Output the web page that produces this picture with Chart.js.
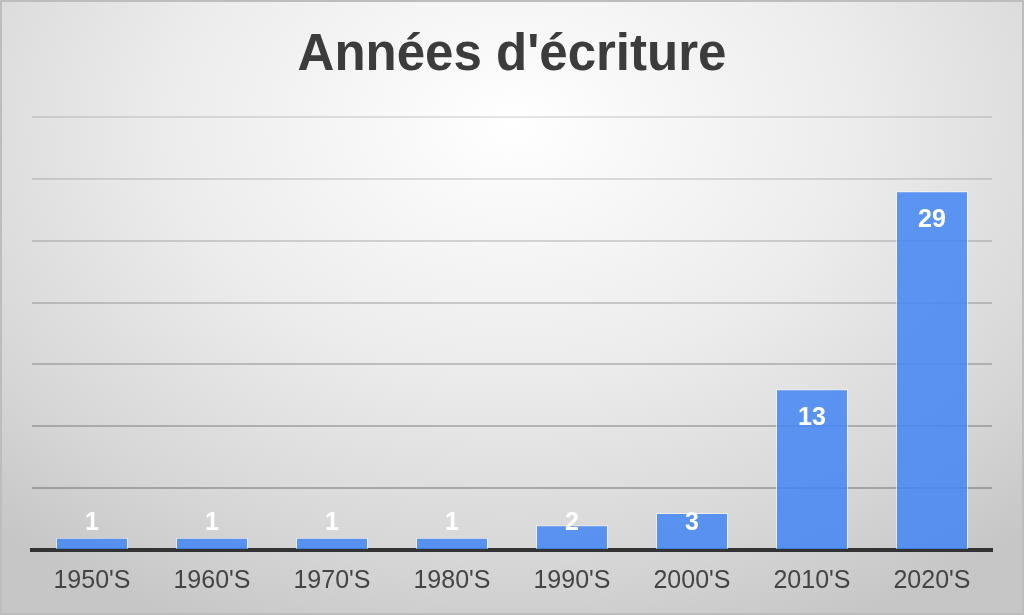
<!DOCTYPE html>
<html>
<head>
<meta charset="utf-8">
<script src="https://cdn.jsdelivr.net/npm/chart.js@4.4.0/dist/chart.umd.min.js"></script>
<style>
    html, body { margin:0; padding:0; }
    #wrap {
        width:1024px; height:615px; box-sizing:border-box;
        border:2px solid #bdbdbd;
        background: radial-gradient(ellipse 75% 90% at 50% 20%, #ffffff 0%, #ececec 45%, #d6d6d6 80%, #c6c6c6 100%);
    }
    canvas { display:block; }
</style>
</head>
<body>
<div id="wrap"><canvas id="chart" width="1020" height="611"></canvas></div>
<script>
// Données
const decennies = ["1950'S","1960'S","1970'S","1980'S","1990'S","2000'S","2010'S","2020'S"];
const nbTextes = [1, 1, 1, 1, 2, 3, 13, 29];
const yMax = 35;
const yStep = 5;

// Étiquettes blanches dans/au-dessus des barres
const labelsBarres = {
    id: 'labelsBarres',
    afterDatasetsDraw(chart){
        const ctx = chart.ctx;
        const base = chart.scales.y.getPixelForValue(0);
        ctx.save();
        ctx.fillStyle = '#ffffff';
        ctx.font = 'bold 25px "Liberation Sans", Arial, sans-serif';
        ctx.textAlign = 'center';
        ctx.textBaseline = 'middle';
        chart.getDatasetMeta(0).data.forEach((bar, i)=>{
            const y = Math.min(bar.y + 28.5, base - 26.5);
            ctx.fillText(String(nbTextes[i]), bar.x, y);
        });
        ctx.restore();
    }
};

const ctx = document.getElementById("chart").getContext("2d");
new Chart(ctx, {
    type:'bar',
    data:{
        labels: decennies,
        datasets:[{
            label:"Années d'écriture",
            data: nbTextes,
            backgroundColor:'rgba(66,133,244,0.85)',
            borderColor:'rgba(255,255,255,0.55)',
            borderWidth:1,
            barPercentage:0.6,
            categoryPercentage:1.0
        }]
    },
    plugins:[labelsBarres],
    options:{
        responsive:false,
        animation:false,
        layout:{ padding:{ left:30, right:30, top:0, bottom:1 } },
        plugins:{
            legend:{ display:false },
            tooltip:{ enabled:false },
            title:{
                display:true,
                text:"Années d'écriture",
                color:'#3c3c3c',
                font:{ family:'"Liberation Sans", Arial, sans-serif', size:51, weight:'bold', lineHeight:1.2 },
                padding:{ top:23.4, bottom:30.4 }
            }
        },
        scales:{
            x:{
                z:1,
                grid:{ display:false, drawTicks:false },
                border:{ display:true, color:'#333333', width:4 },
                ticks:{
                    color:'#444444',
                    padding:16,
                    font:{ family:'"Liberation Sans", Arial, sans-serif', size:25 }
                }
            },
            y:{
                min:0, max:yMax,
                ticks:{ display:false, stepSize:yStep },
                border:{ display:false },
                grid:{
                    drawTicks:false,
                    lineWidth:2,
                    color:(c)=> 'rgba(0,0,0,' + (0.10 + 0.16*(1 - c.tick.value/yMax)).toFixed(3) + ')'
                }
            }
        }
    }
});
</script>
</body>
</html>
